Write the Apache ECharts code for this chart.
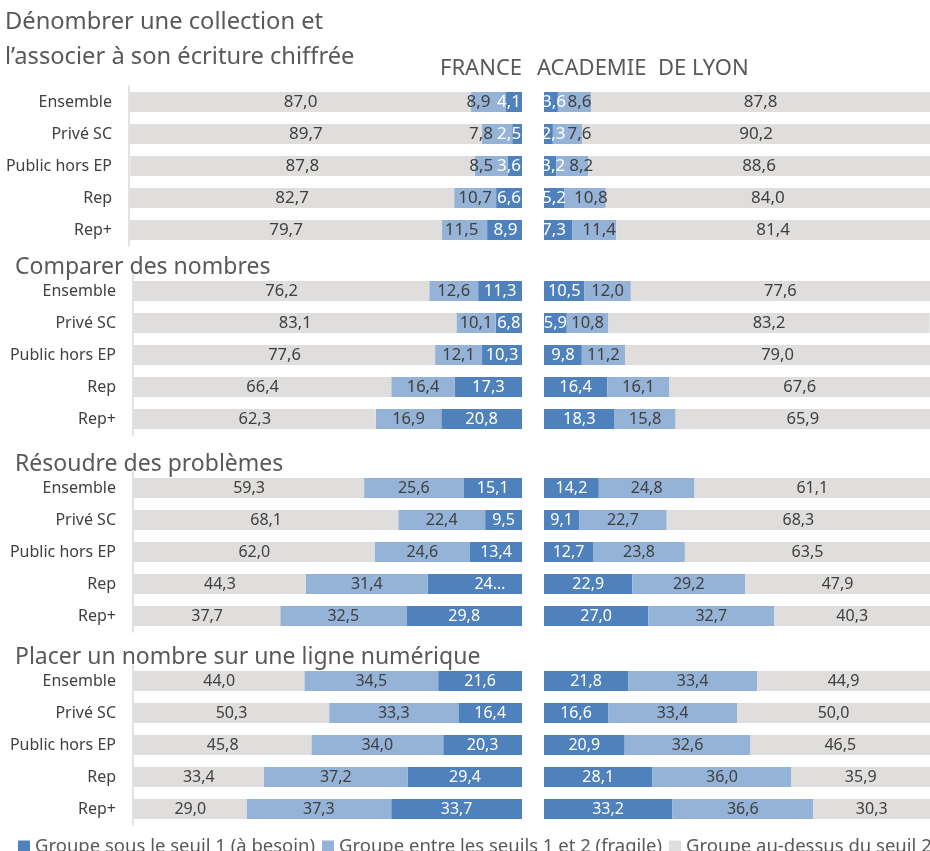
<!DOCTYPE html>
<html>
<head>
<meta charset="utf-8">
<script src="https://cdn.jsdelivr.net/npm/echarts@6/dist/echarts.min.js"></script>
<style>
  html, body { margin: 0; padding: 0; background: #fff; }
  #chart { width: 930px; height: 851px; }
</style>
</head>
<body>
<div id="chart"></div>
<script>
const categories = ['Ensemble', 'Privé SC', 'Public hors EP', 'Rep', 'Rep+'];
const seriesNames = ['Groupe sous le seuil 1 (à besoin)', 'Groupe entre les seuils 1 et 2 (fragile)', 'Groupe au-dessus du seuil 2'];
const panelTitles = ['Dénombrer une collection et\nl’associer à son écriture chiffrée', 'Comparer des nombres', 'Résoudre des problèmes', 'Placer un nombre sur une ligne numérique'];

// Dénombrer
const denombrerFranceBesoin = [4.1, 2.5, 3.6, 6.6, 8.9];
const denombrerFranceFragile = [8.9, 7.8, 8.5, 10.7, 11.5];
const denombrerFranceAuDessus = [87.0, 89.7, 87.8, 82.7, 79.7];
const denombrerLyonBesoin = [3.6, 2.3, 3.2, 5.2, 7.3];
const denombrerLyonFragile = [8.6, 7.6, 8.2, 10.8, 11.4];
const denombrerLyonAuDessus = [87.8, 90.2, 88.6, 84.0, 81.4];

// Comparer
const comparerFranceBesoin = [11.3, 6.8, 10.3, 17.3, 20.8];
const comparerFranceFragile = [12.6, 10.1, 12.1, 16.4, 16.9];
const comparerFranceAuDessus = [76.2, 83.1, 77.6, 66.4, 62.3];
const comparerLyonBesoin = [10.5, 5.9, 9.8, 16.4, 18.3];
const comparerLyonFragile = [12.0, 10.8, 11.2, 16.1, 15.8];
const comparerLyonAuDessus = [77.6, 83.2, 79.0, 67.6, 65.9];

// Résoudre
const resoudreFranceBesoin = [15.1, 9.5, 13.4, 24.3, 29.8];
const resoudreFranceFragile = [25.6, 22.4, 24.6, 31.4, 32.5];
const resoudreFranceAuDessus = [59.3, 68.1, 62.0, 44.3, 37.7];
const resoudreLyonBesoin = [14.2, 9.1, 12.7, 22.9, 27.0];
const resoudreLyonFragile = [24.8, 22.7, 23.8, 29.2, 32.7];
const resoudreLyonAuDessus = [61.1, 68.3, 63.5, 47.9, 40.3];

// Placer
const placerFranceBesoin = [21.6, 16.4, 20.3, 29.4, 33.7];
const placerFranceFragile = [34.5, 33.3, 34.0, 37.2, 37.3];
const placerFranceAuDessus = [44.0, 50.3, 45.8, 33.4, 29.0];
const placerLyonBesoin = [21.8, 16.6, 20.9, 28.1, 33.2];
const placerLyonFragile = [33.4, 33.4, 32.6, 36.0, 36.6];
const placerLyonAuDessus = [44.9, 50.0, 46.5, 35.9, 30.3];

const panels = [
	{ france: [denombrerFranceBesoin, denombrerFranceFragile, denombrerFranceAuDessus],
	  lyon: [denombrerLyonBesoin, denombrerLyonFragile, denombrerLyonAuDessus] },
	{ france: [comparerFranceBesoin, comparerFranceFragile, comparerFranceAuDessus],
	  lyon: [comparerLyonBesoin, comparerLyonFragile, comparerLyonAuDessus] },
	{ france: [resoudreFranceBesoin, resoudreFranceFragile, resoudreFranceAuDessus],
	  lyon: [resoudreLyonBesoin, resoudreLyonFragile, resoudreLyonAuDessus] },
	{ france: [placerFranceBesoin, placerFranceFragile, placerFranceAuDessus],
	  lyon: [placerLyonBesoin, placerLyonFragile, placerLyonAuDessus] }
];

// label nudges for the thin bars of the first panel (like Excel moved them)
const nudges = {
	france: [[-5, -8, -6, 0, 1], [-10, -16, -10, 0, -3]],
	lyon: [[3, 5, 3, 0, -4], [5, 12, 9, 6, 5]]
};

const colors = ['#4f81bd', '#95b3d7', '#dfdedd'];
const labelColors = ['#ffffff', '#404040', '#404040'];
const gridTops = [86, 275, 472, 665];
const franceLeft = [130, 134, 134, 134];
const franceEnd = 522;
const lyonLeft = 544;
const titleTops = [0, 248, 445, 638];
const labelSizes = [17, 16.5, 16, 16];

const font = '"Noto Sans", sans-serif';

function fmt(v) {
	return v.toFixed(1).replace('.', ',');
}

let grids = [], xAxes = [], yAxes = [], series = [];

panels.forEach(function(p, i) {
	let w = franceEnd - franceLeft[i];
	['france', 'lyon'].forEach(function(side, s) {
		let idx = i * 2 + s;
		grids.push({
			left: s === 0 ? franceLeft[i] : lyonLeft,
			top: gridTops[i],
			width: w,
			height: 160
		});
		xAxes.push({
			gridIndex: idx, type: 'value', min: 0, max: 100,
			inverse: s === 0, show: false
		});
		yAxes.push({
			gridIndex: idx, type: 'category', data: categories, inverse: true,
			position: 'left',
			offset: 1,
			show: s === 0,
			axisLine: { show: s === 0, onZero: false, lineStyle: { color: '#d9d9d9', width: 1.5 } },
			axisTick: { show: false },
			axisLabel: { show: s === 0, margin: 17, fontSize: 16, color: '#404040', fontFamily: font }
		});
		p[side].forEach(function(vals, k) {
			let data = vals.map(function(v, j) {
				let item = { value: v };
				if (i === 0 && k < 2) item.label = { offset: [nudges[side][k][j], 0] };
				if (i === 2 && side === 'france' && k === 0 && j === 3) {
					item.label = { offset: [15, 0], formatter: '24…' };
				}
				return item;
			});
			series.push({
				name: seriesNames[k],
				type: 'bar',
				stack: 'p' + idx,
				xAxisIndex: idx,
				yAxisIndex: idx,
				barWidth: 20,
				itemStyle: { color: colors[k] },
				label: {
					show: true,
					position: 'inside',
					fontSize: labelSizes[i],
					fontFamily: font,
					color: labelColors[k],
					formatter: function(d) {
						return fmt(d.value);
					}
				},
				data: data
			});
		});
	});
});

let titles = panelTitles.map(function(t, i) {
	return {
		text: t,
		left: i === 0 ? 0 : 10,
		top: titleTops[i],
		textStyle: { fontSize: i === 0 ? 23.7 : 23, fontWeight: 'normal', color: '#595959', fontFamily: font, lineHeight: i === 0 ? 35 : 28 }
	};
});
titles.push({ text: 'FRANCE', left: 435, top: 53, textStyle: { fontSize: 22, fontWeight: 'normal', color: '#595959', fontFamily: font } });
titles.push({ text: 'ACADEMIE  DE LYON', left: 532, top: 53, textStyle: { fontSize: 22, fontWeight: 'normal', color: '#595959', fontFamily: font } });

let myChart = echarts.init(document.getElementById('chart'));

myChart.setOption({
	animation: false,
	title: titles,
	legend: {
		data: seriesNames,
		left: 13,
		top: 832,
		width: 2000,
		itemWidth: 12,
		itemHeight: 12,
		itemGap: 7,
		icon: 'rect',
		textStyle: { fontSize: 18.5, color: '#595959', fontFamily: font }
	},
	grid: grids,
	xAxis: xAxes,
	yAxis: yAxes,
	series: series
});
</script>
</body>
</html>
